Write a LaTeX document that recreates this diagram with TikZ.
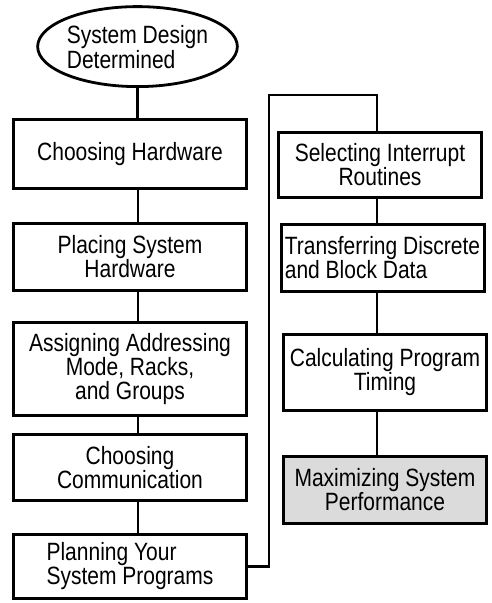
\documentclass[tikz,border=0pt]{standalone}
\usepackage{fontspec}
\setmainfont{Liberation Sans}[FakeStretch=0.84]
\usetikzlibrary{shapes.geometric, positioning}

\begin{document}
\begin{tikzpicture}[
    x=1pt, y=1pt,
    stepbox/.style={rectangle, draw=black, line width=3pt, fill=white, minimum width=233pt, minimum height=67pt, inner sep=2pt, align=center, font=\fontsize{25}{24}\selectfont},
    sidebox/.style={stepbox, minimum width=203pt},
    startbox/.style={ellipse, draw=black, line width=2.8pt, minimum width=182pt, minimum height=80pt, inner sep=0pt, align=left, font=\fontsize{25}{25}\selectfont},
    link/.style={draw, line width=2.8pt}
]
\useasboundingbox (0,0) rectangle (492,-603);

% Left column
\node[stepbox, minimum height=69pt] (hw) at (130,-154) {Choosing Hardware};
\node[startbox, above=30pt of hw, xshift=7.5pt] (sysd) {System Design\\Determined};
\node[stepbox, below=32pt of hw] (place) {Placing System\\Hardware};
\node[stepbox, below=29pt of place, minimum height=93pt] (addr) {Assigning Addressing\\Mode, Racks,\\and Groups};
\node[stepbox, below=16pt of addr, minimum height=66pt] (comm) {Choosing\\Communication};
\node[stepbox, below=31pt of comm, minimum height=64pt, align=left] (plan) {Planning Your\\System Programs};

% Right column
\node[sidebox, minimum height=65pt] (irq) at (380,-165) {Selecting Interrupt\\Routines};
\node[sidebox, below=24pt of irq, xshift=2.5pt, align=left] (xfer) {Transferring Discrete\\and Block Data};
\node[sidebox, below=40pt of xfer, xshift=2.5pt, minimum height=76pt] (timing) {Calculating Program\\Timing};
\node[sidebox, below=43pt of timing, fill=black!14] (perf) {Maximizing System\\Performance};

% Spines
\coordinate (lspine) at (138,0);
\coordinate (rspine) at (377,0);

% Connections
\path[link] (sysd.south) -- (sysd.south |- hw.north);
\path[link] (hw.south -| lspine) -- (place.north -| lspine);
\path[link] (place.south -| lspine) -- (addr.north -| lspine);
\path[link] (addr.south -| lspine) -- (comm.north -| lspine);
\path[link] (comm.south -| lspine) -- (plan.north -| lspine);

\path[link] (plan.east) -- ++(21,0) |- ([yshift=36pt]irq.north -| rspine) -- (irq.north -| rspine);
\path[link] (irq.south -| rspine) -- (xfer.north -| rspine);
\path[link] (xfer.south -| rspine) -- (timing.north -| rspine);
\path[link] (timing.south -| rspine) -- (perf.north -| rspine);

\end{tikzpicture}
\end{document}
